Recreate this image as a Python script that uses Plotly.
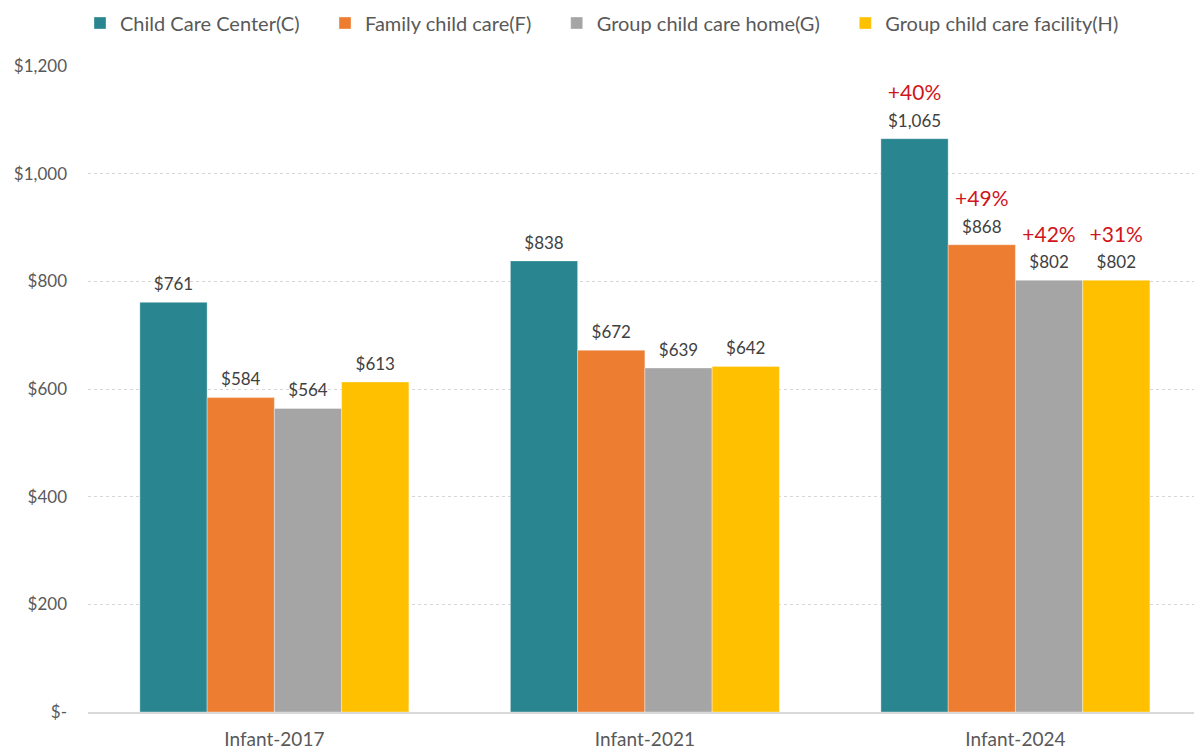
import plotly.graph_objects as go

categories = ["Infant-2017", "Infant-2021", "Infant-2024"]
series_names = ["Child Care Center(C)", "Family child care(F)",
                "Group child care home(G)", "Group child care facility(H)"]
series_values = [
    [761, 838, 1065],
    [584, 672, 868],
    [564, 639, 802],
    [613, 642, 802],
]
pct_labels = [
    ["", "", "+40%"],
    ["", "", "+49%"],
    ["", "", "+42%"],
    ["", "", "+31%"],
]
colors = ["#29858F", "#ED7D31", "#A5A5A5", "#FFC000"]
tick_vals = [0, 200, 400, 600, 800, 1000, 1200]
tick_text = ["$-", "$200", "$400", "$600", "$800", "$1,000", "$1,200"]

FONT = "Lato, 'Open Sans', sans-serif"
PAD = "\u00a0\u00a0\u00a0\u00a0"  # extra spacing between legend entries

fig = go.Figure()
for i, (name, vals, col) in enumerate(zip(series_names, series_values, colors)):
    fig.add_trace(go.Bar(
        name=name + PAD, x=categories, y=vals, marker_color=col,
        marker_line=dict(color="rgba(255,255,255,0.6)", width=0.6),
        offsetgroup=str(i), hoverinfo="skip",
    ))

for i, (vals, pcts) in enumerate(zip(series_values, pct_labels)):
    fig.add_trace(go.Scatter(
        x=categories, y=vals, mode="markers+text", showlegend=False,
        text=[f"${v:,}" for v in vals], textposition="top center",
        marker=dict(size=11, opacity=0), offsetgroup=str(i), cliponaxis=False,
        textfont=dict(size=17, color="#404040", family=FONT), hoverinfo="skip",
    ))
    fig.add_trace(go.Scatter(
        x=categories, y=vals, mode="markers+text", showlegend=False,
        text=pcts, textposition="top center",
        marker=dict(size=52, opacity=0), offsetgroup=str(i), cliponaxis=False,
        textfont=dict(size=21, color="#D0161C", family=FONT), hoverinfo="skip",
    ))

fig.update_layout(
    width=1194, height=751,
    barmode="group", bargap=0.274, bargroupgap=0,
    scattermode="group", scattergap=0.274,
    plot_bgcolor="white", paper_bgcolor="white",
    margin=dict(l=88, r=0, t=66, b=39, autoexpand=False),
    font=dict(family=FONT, color="#595959"),
    legend=dict(orientation="h", x=80 / 1194, xref="container", xanchor="left",
                y=1 - 23 / 751, yref="container", yanchor="middle",
                font=dict(size=20, color="#595959"), tracegroupgap=0),
    yaxis=dict(range=[0, 1200], tickvals=tick_vals, ticktext=tick_text,
               showgrid=True, gridcolor="#D6D6D6", griddash="dot", gridwidth=1,
               zeroline=False, showline=False, ticks="", automargin=False,
               tickfont=dict(size=17, color="#595959"), ticklabelstandoff=20),
    xaxis=dict(range=[-0.503, 2.482], showline=True, linecolor="#D9D9D9",
               linewidth=1.5, ticks="", automargin=False,
               tickfont=dict(size=19, color="#595959"), ticklabelstandoff=9),
)

fig.write_html("out.html", config={"displayModeBar": False},
               post_script="document.body.style.margin='0px';")
